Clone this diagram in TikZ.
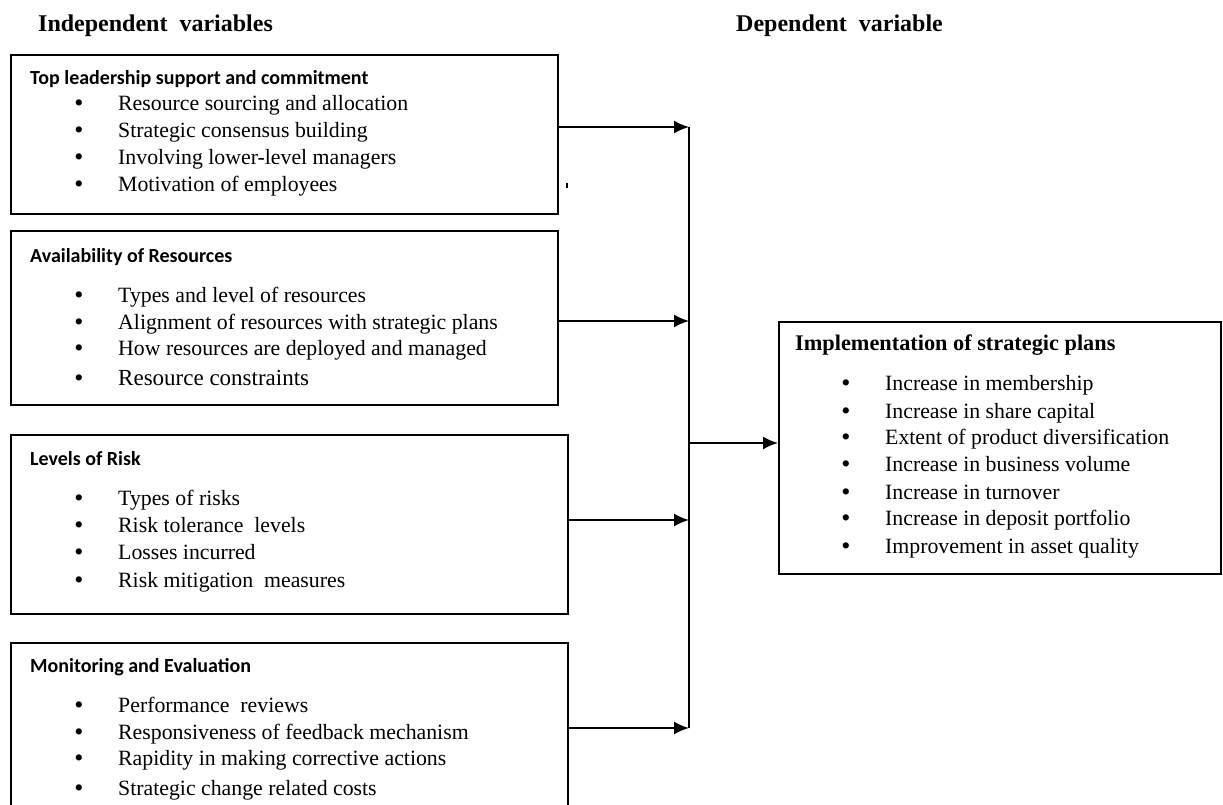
\documentclass[tikz,border=0pt]{standalone}
\usepackage{fontspec}
\setmainfont{Liberation Serif}
\newfontfamily\calfont{Carlito}
\usetikzlibrary{arrows.meta}
\tikzset{
  box/.style={draw, line width=1.8pt, anchor=north west, inner sep=0pt},
  hdr/.style={anchor=base west, inner sep=0pt, font=\fontsize{24}{26}\selectfont\bfseries},
  ttl/.style={anchor=base west, inner sep=0pt, font=\fontsize{20}{24}\calfont\bfseries},
  rttl/.style={anchor=base west, inner sep=0pt, font=\fontsize{22.3}{24}\selectfont\bfseries},
  itm/.style={anchor=base west, inner sep=0pt, font=\fontsize{21.8}{24}\selectfont},
  bul/.style={anchor=base, inner sep=0pt, font=\fontsize{26}{24}\selectfont},
  conn/.style={line width=1.8pt},
  arr/.style={line width=1.8pt, -{Latex[length=15pt,width=13pt]}},
}
\begin{document}
\begin{tikzpicture}[x=1pt,y=-1pt]
\useasboundingbox (0,0) rectangle (1223,805);
% headers
\node[hdr] (h1) at (38,32) {Independent\ \ variables};
\node[hdr] (h2) at (736,32) {Dependent\ \ variable};
% boxes
\node[box, minimum width=547pt, minimum height=159pt] (b1) at (10,54) {};
\node[box, minimum width=547pt, minimum height=174pt] (b2) at (10,230) {};
\node[box, minimum width=557pt, minimum height=179pt] (b3) at (10,434) {};
\node[box, minimum width=557pt, minimum height=200pt] (b4) at (10,642) {};
\node[box, minimum width=442pt, minimum height=252pt] (r) at (778,321) {};
% box 1
\node[ttl] (t1) at (30,85) {Top leadership support and commitment};
\foreach \t [count=\i] in {Resource sourcing and allocation, Strategic consensus building, Involving lower-level managers, Motivation of employees}{
  \node[bul] (b1u\i) at (79,{112+27*(\i-1)}) {\textbullet};
  \node[itm] (b1t\i) at (118,{111+27*(\i-1)}) {\t};
}
% box 2
\node[ttl] (t2) at (30,262) {Availability of Resources};
\node[bul] (b2u1) at (79,303) {\textbullet};
\node[itm] (b2t1) at (118,302) {Types and level of resources};
\node[bul] (b2u2) at (79,330) {\textbullet};
\node[itm] (b2t2) at (118,329) {Alignment of resources with strategic plans};
\node[bul] (b2u3) at (79,356) {\textbullet};
\node[itm] (b2t3) at (118,355) {How resources are deployed and managed};
\node[bul] (b2u4) at (79,386) {\textbullet};
\node[itm, font=\fontsize{23}{26}\selectfont] (b2t4) at (118,385) {Resource constraints};
% box 3
\node[ttl] (t3) at (30,465) {Levels of Risk};
\foreach \t/\y [count=\i] in {Types of risks/505, Risk tolerance\ \ levels/532, Losses incurred/559, Risk mitigation\ \ measures/587}{
  \node[bul] (b3u\i) at (79,\y+1) {\textbullet};
  \node[itm] (b3t\i) at (118,\y) {\t};
}
% box 4
\node[ttl] (t4) at (30,672) {Monitoring and Evaluation};
\foreach \t/\y [count=\i] in {Performance\ \ reviews/712, Responsiveness of feedback mechanism/739, Rapidity in making corrective actions/765, Strategic change related costs/795}{
  \node[bul] (b4u\i) at (79,\y+1) {\textbullet};
  \node[itm] (b4t\i) at (118,\y) {\t};
}
% right box
\node[rttl] (rt) at (795,350) {Implementation of strategic plans};
\foreach \t/\y [count=\i] in {Increase in membership/390, Increase in share capital/418, Extent of product diversification/444, Increase in business volume/471, Increase in turnover/499, Increase in deposit portfolio/525, Improvement in asset quality/553}{
  \node[bul] (ru\i) at (846,\y+1) {\textbullet};
  \node[itm] (rt\i) at (885,\y) {\t};
}
% connectors
\coordinate (j1) at (689,127);
\coordinate (j2) at (689,321);
\coordinate (j3) at (689,520);
\coordinate (j4) at (689,728);
\coordinate (jm) at (689,443);
\draw[conn] (j1) -- (j4);
\draw[arr] (b1.east |- j1) -- (j1);
\draw[arr] (b2.east |- j2) -- (j2);
\draw[arr] (b3.east |- j3) -- (j3);
\draw[arr] (b4.east |- j4) -- (j4);
\draw[arr] (jm) -- (r.west |- jm);
% stray mark
\coordinate (m1) at (567,183);
\coordinate (m2) at (567,188);
\draw[line width=1.2pt] (m1) -- (m2);
\end{tikzpicture}
\end{document}
